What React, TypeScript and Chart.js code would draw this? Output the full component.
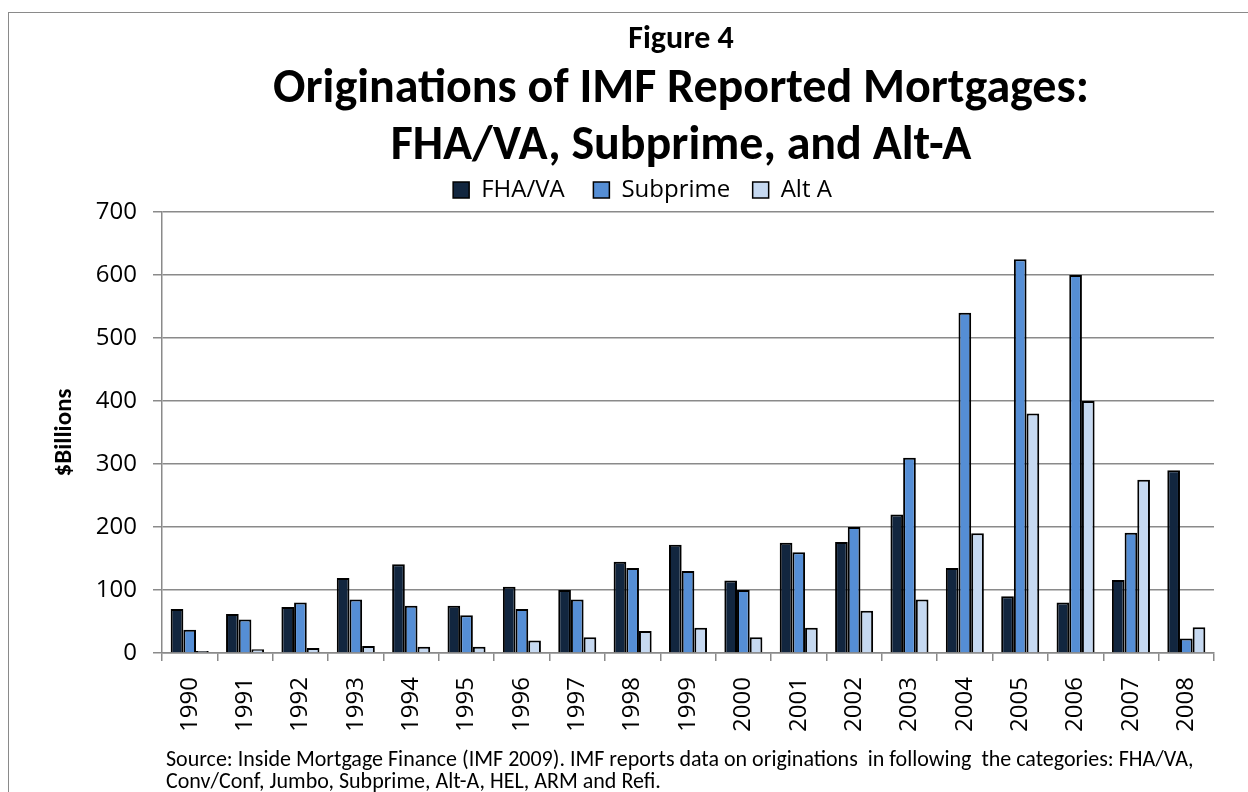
import React, { useEffect, useRef } from "react";
import { Chart, registerables } from "chart.js";

Chart.register(...registerables);

const years = ["1990","1991","1992","1993","1994","1995","1996","1997","1998","1999","2000","2001","2002","2003","2004","2005","2006","2007","2008"];
const fhaVa = [70, 62, 73, 119, 141, 75, 105, 100, 145, 172, 115, 175, 176, 220, 135, 90, 80, 116, 290];
const subprime = [37, 53, 80, 85, 75, 60, 70, 85, 135, 130, 100, 160, 200, 310, 540, 625, 600, 191, 23];
const altA = [3, 6, 8, 11, 10, 10, 20, 25, 35, 40, 25, 40, 67, 85, 190, 380, 400, 275, 41];
const yTicks = [0, 100, 200, 300, 400, 500, 600, 700];

const seriesNames = ["FHA/VA", "Subprime", "Alt A"];
const seriesColors = ["#12263F", "#558ED5", "#C6D9F1"];
const legendGaps = ["   ", "  ", ""];

const TICK_FONT = "'Open Sans', 'Segoe UI', sans-serif";
const TITLE_FONT = "Carlito, Calibri, Lato, sans-serif";

export default function App() {
  const ref = useRef<HTMLCanvasElement | null>(null);

  useEffect(() => {
    if (!ref.current) return;
    const chart = new Chart(ref.current, {
      type: "bar",
      data: {
        labels: years,
        datasets: [fhaVa, subprime, altA].map((d, i) => ({
          label: seriesNames[i],
          data: d,
          backgroundColor: seriesColors[i],
          borderColor: "#000000",
          borderWidth: 2,
          categoryPercentage: 0.687,
          barPercentage: 1.0,
        })),
      },
      options: {
        animation: false,
        responsive: false,
        maintainAspectRatio: false,
        layout: { padding: { left: 71, right: 34, top: 168, bottom: 60 } },
        plugins: {
          title: { display: false },
          tooltip: { enabled: false },
          legend: {
            display: true,
            position: "top",
            labels: {
              boxWidth: 16,
              boxHeight: 16,
              padding: 10,
              color: "#000",
              font: { family: TICK_FONT, size: 24 },
              generateLabels: (c: any) =>
                c.data.datasets.map((ds: any, i: number) => ({
                  text: ds.label + legendGaps[i],
                  fillStyle: ds.backgroundColor,
                  strokeStyle: "#000",
                  lineWidth: 1.5,
                  hidden: false,
                  datasetIndex: i,
                })),
            },
          },
        },
        scales: {
          x: {
            type: "category",
            afterFit: (s: any) => { s.height = 79; },
            grid: {
              display: true,
              offset: true,
              drawOnChartArea: false,
              drawTicks: true,
              tickLength: 8,
              color: "#8a8a8a",
              lineWidth: 1.5,
            },
            border: { display: true, color: "#8a8a8a", width: 1.5 },
            ticks: {
              minRotation: 90,
              maxRotation: 90,
              autoSkip: false,
              padding: 16,
              color: "#000",
              font: { family: TICK_FONT, size: 24 },
            },
          },
          y: {
            min: 0,
            max: 700,
            afterFit: (s: any) => { s.width = 91; },
            afterBuildTicks: (s: any) => { s.ticks = yTicks.map((v) => ({ value: v })); },
            grid: {
              color: "#8a8a8a",
              lineWidth: 1.5,
              drawTicks: true,
              tickLength: 9,
            },
            border: { display: true, color: "#8a8a8a", width: 1.5 },
            ticks: {
              padding: 16,
              color: "#000",
              font: { family: TICK_FONT, size: 24 },
            },
            title: {
              display: true,
              text: "$Billions",
              color: "#000",
              font: { family: TITLE_FONT, size: 25, weight: "bold" },
              padding: { top: -21, bottom: 0 },
            },
          },
        },
      },
    });
    return () => chart.destroy();
  }, []);

  return (
    <div style={{ position: "fixed", left: 0, top: 0, width: 1248, height: 792, background: "#fff", overflow: "hidden" }}>
      <div style={{ position: "absolute", left: 8, top: 12, width: 1400, height: 1000, borderTop: "1.5px solid #8a8a8a", borderLeft: "1.5px solid #8a8a8a" }} />
      <canvas ref={ref} width={1248} height={792} style={{ position: "absolute", left: 0, top: 0 }} />
      <div style={{ position: "absolute", left: 0, width: 1362, top: 22, textAlign: "center", fontFamily: TITLE_FONT, fontWeight: "bold", fontSize: 32, lineHeight: "32px", color: "#000" }}>
        Figure 4
      </div>
      <div style={{ position: "absolute", left: 0, width: 1362, top: 57, textAlign: "center", fontFamily: TITLE_FONT, fontWeight: "bold", fontSize: 48, lineHeight: "57px", color: "#000" }}>
        Originations of IMF Reported Mortgages:<br />FHA/VA, Subprime, and Alt-A
      </div>
      <div style={{ position: "absolute", left: 166, top: 748, width: 1082, fontFamily: TITLE_FONT, fontSize: 22, lineHeight: "22px", color: "#000", whiteSpace: "pre" }}>
        {"Source: Inside Mortgage Finance (IMF 2009). IMF reports data on originations  in following  the categories: FHA/VA,\nConv/Conf, Jumbo, Subprime, Alt-A, HEL, ARM and Refi."}
      </div>
    </div>
  );
}
